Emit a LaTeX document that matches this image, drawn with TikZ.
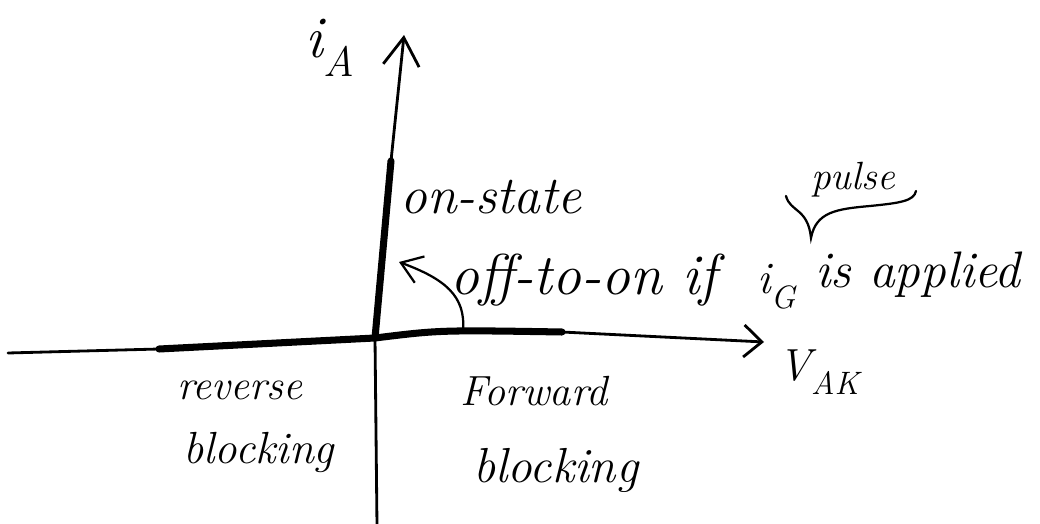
\documentclass[tikz,border=0pt]{standalone}
\usepackage{fontspec}
\usetikzlibrary{arrows.meta}
\newcommand\lowidx[1]{\raisebox{-0.32em}{\scalebox{0.72}{#1}}}

\begin{document}
\begin{tikzpicture}[x=0.025cm,y=-0.025cm,
  axis/.style={line width=2pt,line cap=round,line join=round},
  branch/.style={line width=5pt,line cap=round},
  pen/.style={line width=1.6pt,line cap=round},
  hand/.style={font=\fontsize{32}{38}\selectfont\itshape,inner sep=0pt,anchor=base west}]
\useasboundingbox (0,0) rectangle (1040,524);

% axes
\coordinate (O) at (375,338);
\coordinate (vbot) at (377,526);
\coordinate (ontop) at (391,161);
\coordinate (vtop) at (404,35);
\coordinate (hleft) at (8,353);
\coordinate (rbstart) at (159,349);
\coordinate (fbend) at (562,332);
\coordinate (hright) at (764,342);
\draw[axis,-{Straight Barb[length=7mm,width=9mm]}] (vbot) -- (O) -- (ontop) .. controls (398,100) .. (vtop);
\draw[axis,-{Straight Barb[length=4.5mm,width=8mm]}] (hleft) -- (rbstart) -- (O) .. controls (440,330) .. (fbend) -- (hright);

% thick branches
\draw[branch] (rbstart) -- (O);
\draw[branch] (O) .. controls (440,330) .. (fbend);
\draw[branch] (O) -- (ontop);

% axis labels
\node[hand,font=\fontsize{42}{46}\selectfont\itshape] (iA) at (305,58) {i\lowidx{A}};
\node[hand] (VAK) at (778,380) {V\lowidx{AK}};

% regions
\node[hand,font=\fontsize{38}{44}\selectfont\itshape] (onstate) at (400,214) {on-state};
\node[hand,font=\fontsize{30}{36}\selectfont\itshape] (rev) at (177,400) {reverse};
\node[hand,font=\fontsize{32}{38}\selectfont\itshape] (revblk) at (183,463) {blocking};
\node[hand,font=\fontsize{30}{36}\selectfont\itshape] (fwd) at (460,405) {Forward};
\node[hand,font=\fontsize{35}{40}\selectfont\itshape] (fwdblk) at (473,482) {blocking};

% turn-on by the gate
\node[hand,font=\fontsize{41}{46}\selectfont\itshape] (offon) at (450,295) {off-to-on if};
\node[hand] (iG) at (757,294) {i\lowidx{G}};
\node[hand,font=\fontsize{36.5}{42}\selectfont\itshape] (applied) at (815,288) {is applied};
\node[hand,font=\fontsize{28}{34}\selectfont\itshape] (pulse) at (811,190) {pulse};
\draw[pen] (786,196) .. controls (790,212) and (808,208) .. (811,238)
  .. controls (816,212) and (836,209) .. (870,206) .. controls (900,203) and (914,201) .. (916,191);
\coordinate (trig) at (463,331);
\coordinate (turnon) at (399,262);
\draw[pen,-{Straight Barb[length=5mm,width=7mm]}] (trig) .. controls (466,296) and (445,279) .. (turnon);
\end{tikzpicture}
\end{document}
